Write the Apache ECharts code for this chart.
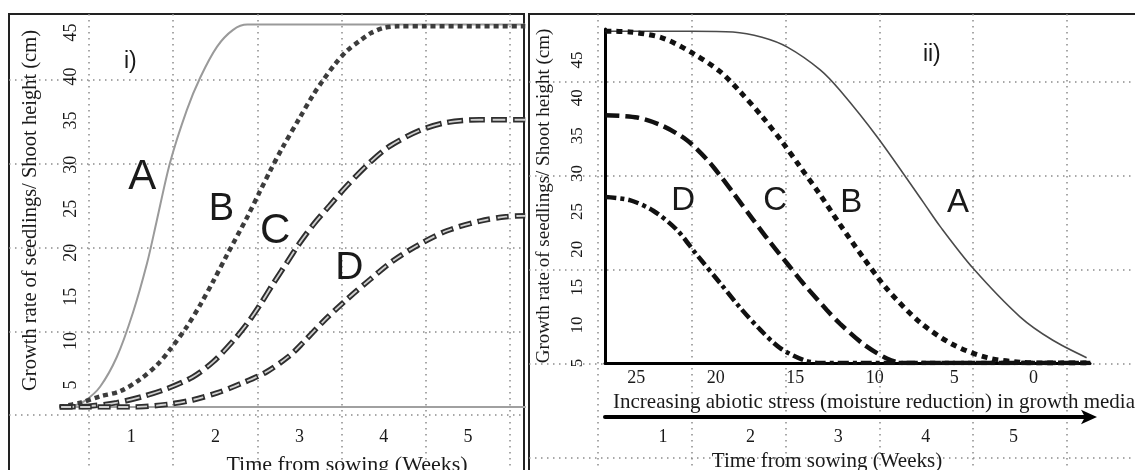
<!DOCTYPE html>
<html>
<head>
<meta charset="utf-8">
<script src="https://cdn.jsdelivr.net/npm/echarts@6/dist/echarts.min.js"></script>
<style>
  html, body { margin: 0; background: #fff; }
  #chart { width: 1135px; height: 470px; }
</style>
</head>
<body>
<div id="chart"></div>
<script>
// curve names and tick labels
const curveNames = ['A', 'B', 'C', 'D'];
const panelNames = ['i)', 'ii)'];
const weekTicks = [1, 2, 3, 4, 5];
const heightTicks = [5, 10, 15, 20, 25, 30, 35, 40, 45];
const stressTicks = [25, 20, 15, 10, 5, 0];

// panel i) : [weeks, shoot height cm]
const growA = [[0.15, 2.5], [0.30, 2.6], [0.45, 3.2], [0.63, 4.8], [0.83, 8.2], [1.02, 13.2], [1.19, 18.9],
  [1.30, 23.5], [1.46, 30.2], [1.66, 36.2], [1.82, 39.9], [2.02, 43.4], [2.21, 45.3], [2.38, 45.9],
  [2.7, 45.9], [3.5, 45.9], [4.5, 45.9], [5.68, 45.9]];
const growB = [[0.15, 2.5], [0.40, 3.0], [0.63, 3.7], [0.87, 4.3], [1.10, 5.6], [1.31, 7.3], [1.46, 9.0],
  [1.66, 11.6], [1.82, 14.1], [1.97, 16.7], [2.14, 19.8], [2.38, 24.1], [2.53, 27.0], [2.65, 29.3],
  [2.80, 32.0], [3.00, 35.3], [3.16, 37.9], [3.28, 39.6], [3.42, 41.4], [3.56, 42.9], [3.72, 44.1],
  [3.84, 44.9], [3.99, 45.5], [4.16, 45.7], [4.5, 45.7], [5.1, 45.7], [5.68, 45.7]];
const growC = [[0.15, 2.5], [0.50, 2.6], [0.83, 3.0], [1.14, 3.7], [1.43, 4.6], [1.73, 5.9], [1.97, 7.6],
  [2.21, 10.0], [2.38, 12.0], [2.53, 14.1], [2.68, 16.4], [2.85, 18.9], [3.00, 21.1], [3.18, 23.4],
  [3.36, 25.4], [3.56, 27.6], [3.84, 30.3], [4.07, 32.1], [4.43, 33.9], [4.75, 34.8], [5.14, 35.1],
  [5.4, 35.1], [5.68, 35.1]];
const growD = [[0.15, 2.5], [0.60, 2.5], [1.02, 2.5], [1.43, 2.8], [1.73, 3.3], [2.02, 4.1], [2.29, 5.1],
  [2.61, 6.5], [2.89, 8.4], [3.04, 9.8], [3.28, 12.2], [3.56, 14.7], [3.84, 17.0], [4.11, 19.1],
  [4.43, 21.0], [4.75, 22.5], [5.14, 23.6], [5.45, 24.1], [5.68, 24.2]];

// panel ii) : [weeks, shoot height cm] under rising moisture stress
const dropA = [[0.58, 48.8], [1.0, 48.8], [1.5, 48.8], [1.94, 48.7], [2.25, 48.0], [2.52, 46.7], [2.87, 43.7],
  [3.08, 41.0], [3.48, 34.8], [3.97, 26.2], [4.15, 23.0], [4.50, 17.5], [5.00, 11.1], [5.35, 8.0],
  [5.71, 5.7]];
const dropB = [[0.58, 48.8], [0.84, 48.7], [1.19, 47.9], [1.51, 45.9], [1.80, 43.5], [2.01, 40.9], [2.26, 37.4],
  [2.47, 34.1], [2.65, 31.0], [2.87, 27.2], [3.08, 23.3], [3.33, 18.9], [3.58, 14.8], [3.93, 10.4],
  [4.29, 7.4], [4.65, 5.7], [5.00, 5.1], [5.3, 5.0], [5.75, 5.0]];
const dropC = [[0.58, 37.7], [0.92, 37.4], [1.19, 36.3], [1.45, 34.4], [1.66, 31.9], [1.80, 29.8], [1.94, 27.5],
  [2.15, 24.0], [2.32, 21.2], [2.52, 18.1], [2.69, 15.5], [2.94, 12.0], [3.08, 10.2], [3.33, 7.5],
  [3.58, 5.6], [3.75, 5.0], [4.2, 5.0], [5.0, 5.0], [5.75, 5.0]];
const dropD = [[0.58, 26.9], [0.84, 26.5], [1.09, 25.1], [1.34, 22.6], [1.56, 19.2], [1.80, 15.6], [2.01, 12.4],
  [2.23, 9.4], [2.44, 7.0], [2.69, 5.4], [2.87, 5.0], [3.3, 5.0], [4.5, 5.0], [5.75, 5.0]];

const serif = "'Liberation Serif', 'DejaVu Serif', serif";
const sans = "'Liberation Sans', 'DejaVu Sans', sans-serif";
const ink = '#1a1a1a';
const dotted = { color: '#8c8c8c', width: 1.5, type: [1.5, 4.5] };

const chart = echarts.init(document.getElementById('chart'));

// axis that only draws the dotted grid lines
const lineAxis = (grid, max) => ({
  gridIndex: grid, type: 'value', min: 0, max: max, interval: 1,
  axisLine: { show: false }, axisTick: { show: false }, axisLabel: { show: false },
  splitLine: { show: true, showMinLine: true, showMaxLine: true, lineStyle: dotted }
});
const blankAxis = grid => ({ gridIndex: grid, type: 'value', show: false, min: 0, max: 1 });

// letter placed at a data coordinate
const tag = (text, coord, size) => ({
  coord: coord,
  label: { formatter: text, fontSize: size }
});
const tags = list => ({
  symbol: 'circle', symbolSize: 1, itemStyle: { color: 'rgba(0,0,0,0)' },
  label: { show: true, position: 'inside', color: ink, fontFamily: sans },
  data: list
});

const curve = (name, data, ax, style, marks) => ({
  name: name, type: 'line', data: data, xAxisIndex: ax[0], yAxisIndex: ax[1],
  smooth: 0.3, showSymbol: false, silent: true,
  lineStyle: style, markPoint: marks
});

// grids keep their exact boxes (no shrinking to fit labels)
const box = (left, top, width, height, frame) => Object.assign(
  { left, top, width, height, outerBoundsMode: 'none', containLabel: false },
  frame ? { show: true, borderColor: '#222', borderWidth: 2, backgroundColor: 'transparent' } : {}
);

const L = [3, 3], R = [7, 7];

chart.setOption({
  animation: false,
  grid: [
    box(9, 14, 515, 520, true),
    box(89, 14, 421, 456),
    box(9, 80, 515, 335),
    box(60, 14, 465, 393),
    box(529, 14, 700, 520, true),
    box(598, 14, 469, 456),
    box(529, 82, 606, 376),
    box(605, 29, 485, 334)
  ],
  xAxis: [
    blankAxis(0),
    lineAxis(1, 5),
    blankAxis(2),
    {
      gridIndex: 3, type: 'value', min: 0.154, max: 5.677, position: 'bottom',
      axisLine: { onZero: false, lineStyle: { color: '#a0a0a0', width: 2 } },
      axisTick: { show: false }, splitLine: { show: false },
      axisLabel: { customValues: weekTicks, margin: 21, fontFamily: serif, fontSize: 18, color: ink },
      name: 'Time from sowing (Weeks)', nameLocation: 'middle', nameGap: 47,
      nameTextStyle: { fontFamily: serif, fontSize: 22, color: ink, padding: [0, 0, 0, 109] }
    },
    blankAxis(4),
    lineAxis(5, 5),
    blankAxis(6),
    { gridIndex: 7, type: 'value', min: 0.576, max: 5.746, position: 'top', show: false },
    {
      gridIndex: 7, type: 'value', min: -3.55, max: 26.97, inverse: true, position: 'bottom',
      axisLine: { onZero: false, lineStyle: { color: '#000', width: 3 } },
      axisTick: { show: false }, splitLine: { show: false },
      axisLabel: { customValues: stressTicks, margin: 6, fontFamily: serif, fontSize: 18, color: ink },
      name: 'Increasing abiotic stress (moisture reduction) in growth media', nameLocation: 'middle', nameGap: 28,
      nameTextStyle: { fontFamily: serif, fontSize: 21, color: ink, padding: [0, 0, 0, 53] }
    },
    {
      gridIndex: 7, type: 'value', min: 0.338, max: 5.874, position: 'bottom', offset: 54,
      axisLine: {
        onZero: false, lineStyle: { color: '#000', width: 4 },
        symbol: ['none', 'arrow'], symbolSize: [11, 16], symbolOffset: [0, 7]
      },
      axisTick: { show: false }, splitLine: { show: false },
      axisLabel: { customValues: weekTicks, margin: 11, fontFamily: serif, fontSize: 18, color: ink },
      name: 'Time from sowing (Weeks)', nameLocation: 'middle', nameGap: 29,
      nameTextStyle: { fontFamily: serif, fontSize: 21, color: ink, padding: [0, 41, 0, 0] }
    }
  ],
  yAxis: [
    blankAxis(0),
    blankAxis(1),
    lineAxis(2, 4),
    {
      gridIndex: 3, type: 'value', min: 2.5, max: 47.1, offset: -22,
      axisLine: { show: false, onZero: false }, axisTick: { show: false }, splitLine: { show: false },
      axisLabel: { customValues: heightTicks, rotate: 90, margin: 2, fontFamily: serif, fontSize: 18, color: ink },
      name: 'Growth rate of seedlings/ Shoot height (cm)', nameLocation: 'middle', nameGap: 41, nameRotate: 90,
      nameTextStyle: { fontFamily: serif, fontSize: 20.5, color: ink }
    },
    blankAxis(4),
    blankAxis(5),
    lineAxis(6, 4),
    {
      gridIndex: 7, type: 'value', min: 5, max: 49.09,
      axisLine: { show: true, onZero: false, lineStyle: { color: '#000', width: 3 } },
      axisTick: { show: false }, splitLine: { show: false },
      axisLabel: { customValues: heightTicks, rotate: 90, margin: 19, fontFamily: serif, fontSize: 17, color: ink },
      name: 'Growth rate of seedlings/ Shoot height (cm)', nameLocation: 'middle', nameGap: 51, nameRotate: 90,
      nameTextStyle: { fontFamily: serif, fontSize: 19, color: ink }
    }
  ],
  series: [
    // panel i)
    curve(curveNames[0], growA, L, { color: '#9a9a9a', width: 2 },
      tags([tag(curveNames[0], [1.13, 28.5], 42), tag(panelNames[0], [0.99, 41.7], 23)])),
    curve(curveNames[1], growB, L, { color: '#3c3c3c', width: 4.5, type: [5, 4] },
      tags([tag(curveNames[1], [2.07, 24.9], 38)])),
    curve(curveNames[2], growC, L, { color: '#2e2e2e', width: 5.5, type: [16, 6] },
      tags([tag(curveNames[2], [2.71, 22.4], 42)])),
    curve(curveNames[2], growC, L, { color: '#d0d0d0', width: 1.8, type: [13, 9], dashOffset: -1.5 }),
    curve(curveNames[3], growD, L, { color: '#2e2e2e', width: 5.5, type: [13, 6] },
      tags([tag(curveNames[3], [3.59, 18.2], 39)])),
    curve(curveNames[3], growD, L, { color: '#d0d0d0', width: 1.8, type: [10, 9], dashOffset: -1.5 }),
    // panel ii)
    curve(curveNames[0], dropA, R, { color: '#4a4a4a', width: 1.6 },
      tags([tag(curveNames[0], [4.34, 26.1], 33), tag(panelNames[1], [4.06, 45.7], 23)])),
    curve(curveNames[1], dropB, R, { color: '#111', width: 5, type: [6, 5] },
      tags([tag(curveNames[1], [3.20, 26.1], 33)])),
    curve(curveNames[2], dropC, R, { color: '#111', width: 4.5, type: [14, 6] },
      tags([tag(curveNames[2], [2.39, 26.4], 33)])),
    curve(curveNames[3], dropD, R, { color: '#111', width: 4.5, type: [11, 4, 4, 4] },
      tags([tag(curveNames[3], [1.41, 26.4], 33)]))
  ]
});
</script>
</body>
</html>
